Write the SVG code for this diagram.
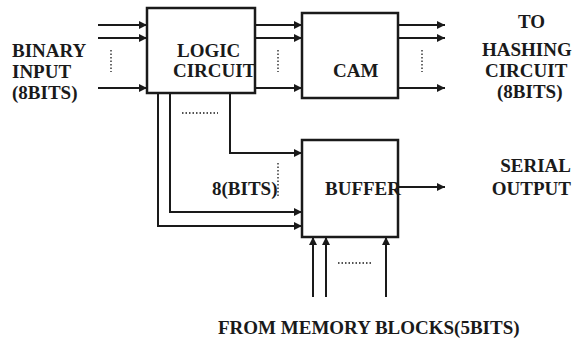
<svg xmlns="http://www.w3.org/2000/svg" width="576" height="342" viewBox="0 0 576 342">
<style>
text{font-family:"Liberation Serif","Times New Roman",serif;font-weight:bold;font-size:19px;fill:#1a1a1a}
.box{fill:#fff;stroke:#1a1a1a;stroke-width:2.5}
.ln{fill:none;stroke:#1a1a1a;stroke-width:2}
.dot{fill:none;stroke:#1a1a1a;stroke-width:1.3;stroke-dasharray:1.5 2}
</style>
<defs>
<marker id="ah" viewBox="0 0 10 10" refX="10" refY="5" markerWidth="9" markerHeight="8" markerUnits="userSpaceOnUse" orient="auto">
<path d="M0,0 L10,5 L0,10 Z" fill="#1a1a1a"/>
</marker>
</defs>
<g id="connectors">
<path class="ln" d="M98,25H147" marker-end="url(#ah)"/>
<path class="ln" d="M98,38H147" marker-end="url(#ah)"/>
<path class="ln" d="M98,88H147" marker-end="url(#ah)"/>
<path class="dot" d="M111,50V72"/>
<path class="ln" d="M255,25H302" marker-end="url(#ah)"/>
<path class="ln" d="M255,38H302" marker-end="url(#ah)"/>
<path class="ln" d="M255,88H302" marker-end="url(#ah)"/>
<path class="dot" d="M278,50V72"/>
<path class="ln" d="M398,25H445" marker-end="url(#ah)"/>
<path class="ln" d="M398,38H445" marker-end="url(#ah)"/>
<path class="ln" d="M398,88H445" marker-end="url(#ah)"/>
<path class="dot" d="M422,50V72"/>
<path class="ln" d="M158,93V226H302" marker-end="url(#ah)"/>
<path class="ln" d="M170,93V212H302" marker-end="url(#ah)"/>
<path class="ln" d="M230,93V153H302" marker-end="url(#ah)"/>
<path class="dot" d="M182,113H218"/>
<path class="dot" d="M278,163V197"/>
<path class="ln" d="M398,187H445" marker-end="url(#ah)"/>
<path class="ln" d="M313,297V237" marker-end="url(#ah)"/>
<path class="ln" d="M326,297V237" marker-end="url(#ah)"/>
<path class="ln" d="M386,297V237" marker-end="url(#ah)"/>
<path class="dot" d="M338,263H373"/>
</g>
<g id="logic">
<rect class="box" x="147" y="8" width="108" height="85"/>
<text x="177" y="57">LOGIC</text>
<text x="173" y="77">CIRCUIT</text>
</g>
<g id="cam">
<rect class="box" x="302" y="13" width="96" height="85"/>
<text x="333" y="77">CAM</text>
</g>
<g id="buffer">
<rect class="box" x="302" y="140" width="96" height="97"/>
<text x="325" y="195">BUFFER</text>
</g>
<g id="labels">
<text x="12" y="57">BINARY</text>
<text x="12" y="78">INPUT</text>
<text x="12" y="99">(8BITS)</text>
<text x="518" y="28">TO</text>
<text x="482" y="56">HASHING</text>
<text x="485" y="77">CIRCUIT</text>
<text x="497" y="98">(8BITS)</text>
<text x="571" y="172" text-anchor="end">SERIAL</text>
<text x="571" y="195" text-anchor="end">OUTPUT</text>
<text x="212" y="195">8(BITS)</text>
<text x="218" y="334">FROM MEMORY BLOCKS(5BITS)</text>
</g>
</svg>
